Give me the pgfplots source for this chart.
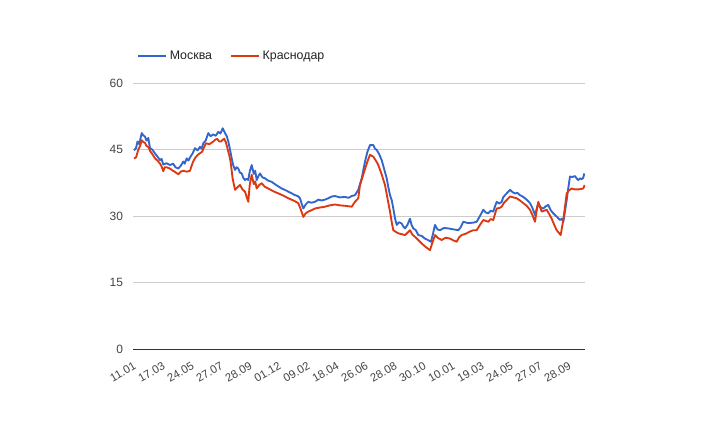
\documentclass[border=0pt]{standalone}
\usepackage{pgfplots}
\pgfplotsset{compat=1.18}
\usepackage{fontspec}
\setmainfont{Liberation Sans}
\definecolor{gblue}{HTML}{3366CC}
\definecolor{gred}{HTML}{DC3912}
\definecolor{gridc}{HTML}{CCCCCC}
\definecolor{txt}{HTML}{444444}
\definecolor{leg}{HTML}{222222}
\begin{document}
\begin{tikzpicture}
\useasboundingbox (0,0) rectangle (540pt,324pt);
\begin{axis}[
  at={(99.75pt,62.25pt)}, anchor=south west,
  scale only axis, width=339pt, height=199.5pt,
  xmin=-0.345, xmax=155.52, ymin=0, ymax=60,
  axis line style={draw=none},
  ytick={0,15,30,45,60},
  xtick={0,10,...,150},
  xticklabels={11.01,17.03,24.05,27.07,28.09,01.12,09.02,18.04,26.06,28.08,30.10,10.01,19.03,24.05,27.07,28.09},
  major tick length=0pt,
  ymajorgrids, grid style={gridc, line width=0.75pt},
  extra y ticks={0}, extra y tick labels={},
  extra y tick style={grid style={draw=black!80, line width=0.75pt}},
  /pgf/number format/assume math mode=true,
  yticklabel style={font=\fontsize{9pt}{11pt}\selectfont, text=txt, xshift=-4pt},
  xticklabel style={font=\fontsize{8.5pt}{10pt}\selectfont, text=txt, inner sep=0pt, xshift=-0.8pt, yshift=-9.3pt, rotate=30, anchor=north east},
  legend columns=2,
  legend style={at={(0.0088,1.102)}, anchor=west, draw=none, fill=none, inner sep=0pt,
    font=\fontsize{9.3pt}{11pt}\selectfont, text=leg,
    /tikz/every even column/.append style={column sep=11.5pt}},
  legend image code/.code={\draw[#1] (0pt,0pt) -- (21pt,0pt);},
  every axis plot/.append style={line width=1.4pt, line join=round},
]
\addplot[gblue] coordinates {
(0,44.8)(0.7,45.3)(1.2,46.8)(1.8,46.2)(2.66,48.7)(3.2,48.2)(3.79,47.9)(4.3,47.0)(4.93,47.6)(5.52,45.3)(6.3,45.0)(7.24,44.1)(8.1,43.4)(8.97,42.6)(9.5,42.9)(10.1,41.6)(11.2,41.9)(12.41,41.5)(13.5,41.8)(14.3,41.0)(15.28,40.7)(16.2,41.4)(17.0,42.3)(17.5,41.8)(18.17,43.0)(18.8,42.5)(19.31,43.2)(20.2,44.1)(21.03,45.3)(21.9,44.8)(22.76,45.6)(23.3,45.2)(23.9,46.4)(24.7,47.0)(25.62,48.7)(26.4,48.0)(27.34,48.4)(28.2,48.1)(29.07,49.0)(29.8,48.6)(30.59,49.8)(31.38,48.7)(32.0,48.0)(32.52,46.8)(33.1,45.0)(33.69,43.0)(34.2,41.5)(34.83,40.4)(35.4,41.0)(35.97,40.7)(36.5,39.8)(37.14,39.6)(37.7,38.6)(38.28,38.1)(38.8,38.4)(39.41,38.1)(39.9,40.0)(40.59,41.5)(41.3,39.5)(41.8,40.2)(42.31,38.1)(42.9,39.0)(43.45,39.6)(44.3,38.7)(45.17,38.5)(46.2,38.0)(47.48,37.7)(49.0,37.0)(50.93,36.2)(52.0,35.9)(53.21,35.5)(54.4,35.1)(55.52,34.7)(56.5,34.5)(57.24,34.0)(57.8,32.8)(58.38,31.7)(59.2,32.6)(60.1,33.2)(61.2,33.0)(62.41,33.2)(63.55,33.7)(64.7,33.5)(65.86,33.7)(67.0,34.0)(68.17,34.4)(69.31,34.5)(71.0,34.2)(72.76,34.3)(74.0,34.1)(75.07,34.5)(76.21,34.7)(77.34,35.9)(78.52,38.5)(79.66,42.3)(80.5,44.5)(81.38,46.0)(82.52,46.0)(83.1,45.2)(83.69,44.9)(84.5,44.0)(85.41,42.6)(86.3,40.5)(87.14,38.5)(87.7,36.5)(88.28,34.7)(88.9,33.5)(89.41,31.7)(90.0,29.5)(90.59,28.0)(91.4,28.6)(92.31,28.3)(92.9,27.6)(93.45,27.2)(94.3,28.0)(95.17,29.4)(95.7,28.0)(96.31,27.2)(97.2,26.8)(98.03,25.7)(99.2,25.5)(100.34,24.9)(101.3,24.6)(102.41,24.2)(103.1,26.0)(103.79,28.0)(104.6,27.0)(105.52,26.8)(106.9,27.3)(108.38,27.2)(110.0,27.0)(111.83,26.8)(112.6,27.4)(113.55,28.7)(115.2,28.4)(117.0,28.5)(118.17,28.7)(119.3,30.0)(120.45,31.4)(121.3,30.8)(122.17,30.6)(123.0,31.2)(123.9,31.0)(124.5,32.2)(125.07,33.2)(126.0,32.8)(126.79,33.2)(127.3,34.2)(127.93,34.7)(128.8,35.3)(129.66,35.9)(130.5,35.4)(131.38,35.1)(132.2,35.2)(133.1,34.7)(134.0,34.4)(134.83,34.0)(135.7,33.5)(136.55,32.9)(137.4,31.8)(138.28,30.2)(138.8,31.5)(139.41,32.9)(140.3,31.9)(141.14,31.7)(142.0,32.2)(142.86,32.5)(143.7,31.3)(144.59,30.6)(145.7,29.9)(146.9,29.1)(147.5,29.4)(148.03,28.7)(148.6,31.0)(149.21,33.6)(149.8,36.5)(150.34,38.9)(151.2,38.8)(152.07,39.0)(152.6,38.5)(153.21,38.1)(153.8,38.5)(154.38,38.3)(154.9,38.6)(155.28,39.6)
};
\addlegendentry{Москва}
\addplot[gred] coordinates {
(0,43.0)(0.7,43.2)(1.5,45.0)(2.1,45.8)(2.66,47.1)(3.2,46.7)(3.79,46.5)(4.3,45.8)(4.93,45.6)(5.6,44.6)(6.1,44.2)(7.24,43.0)(8.1,42.5)(8.97,41.8)(9.5,41.2)(10.1,40.1)(10.6,41.0)(11.2,41.0)(12.41,40.7)(13.2,40.3)(14.0,40.0)(15.28,39.4)(16.1,40.0)(17.0,40.2)(18.2,40.0)(19.31,40.2)(19.8,41.2)(20.4,42.3)(21.2,43.2)(22.0,43.8)(23.5,44.5)(24.2,45.6)(24.8,46.4)(26.0,46.2)(27.34,46.8)(28.0,47.2)(28.7,47.4)(29.4,46.8)(30.0,46.8)(30.6,47.2)(31.1,47.4)(31.7,46.6)(32.2,45.3)(32.8,43.8)(33.3,42.3)(34.0,38.5)(34.83,35.9)(35.7,36.5)(36.55,37.0)(37.4,36.0)(38.28,35.5)(38.8,34.4)(39.41,33.2)(39.9,37.0)(40.59,39.3)(41.3,37.2)(41.8,37.8)(42.31,36.2)(43.2,37.0)(44.03,37.4)(45.1,36.6)(46.31,36.2)(48.0,35.6)(49.76,35.1)(51.5,34.6)(53.21,34.0)(55.0,33.5)(56.66,32.9)(57.5,31.5)(58.38,29.8)(59.2,30.6)(60.1,31.0)(61.2,31.3)(62.41,31.7)(64.0,31.9)(65.86,32.1)(67.5,32.4)(69.31,32.6)(71.0,32.4)(72.76,32.3)(74.0,32.2)(75.07,32.1)(76.21,33.2)(77.34,34.0)(77.93,37.0)(78.8,38.8)(79.66,40.6)(80.5,42.3)(81.38,43.8)(82.52,43.4)(83.4,42.5)(84.24,41.5)(85.4,39.4)(86.55,37.0)(87.4,34.0)(88.28,31.0)(88.9,28.5)(89.41,26.8)(90.3,26.4)(91.14,26.1)(92.3,25.9)(93.45,25.7)(94.3,26.2)(95.17,26.8)(96.0,25.8)(96.9,25.3)(98.0,24.6)(99.2,23.8)(100.6,23.0)(102.07,22.3)(102.9,24.0)(103.79,25.7)(104.9,25.0)(106.1,24.6)(107.5,25.1)(108.97,24.9)(110.1,24.5)(111.28,24.2)(112.1,25.2)(113.0,25.7)(114.4,26.0)(115.86,26.5)(117.0,26.8)(118.17,26.8)(119.3,28.0)(120.45,29.1)(121.3,28.9)(122.17,28.7)(123.0,29.3)(123.9,29.1)(124.5,30.5)(125.07,31.7)(126.0,31.8)(126.79,32.1)(127.6,33.0)(128.52,33.6)(129.66,34.4)(130.8,34.2)(131.97,34.0)(133.1,33.5)(134.24,32.9)(135.4,32.3)(136.55,31.4)(137.4,30.2)(138.28,28.7)(138.8,31.0)(139.41,33.2)(140.0,32.0)(140.59,31.0)(141.4,31.2)(142.31,31.4)(143.2,30.4)(144.03,29.4)(144.9,28.0)(145.76,26.8)(146.5,26.2)(147.14,25.7)(147.6,27.5)(148.03,29.1)(148.6,32.0)(149.21,35.1)(150.0,35.8)(150.93,36.2)(152.0,36.0)(153.21,36.0)(154.1,36.1)(154.93,36.2)(155.4,37.0)
};
\addlegendentry{Краснодар}
\end{axis}
\end{tikzpicture}
\end{document}
